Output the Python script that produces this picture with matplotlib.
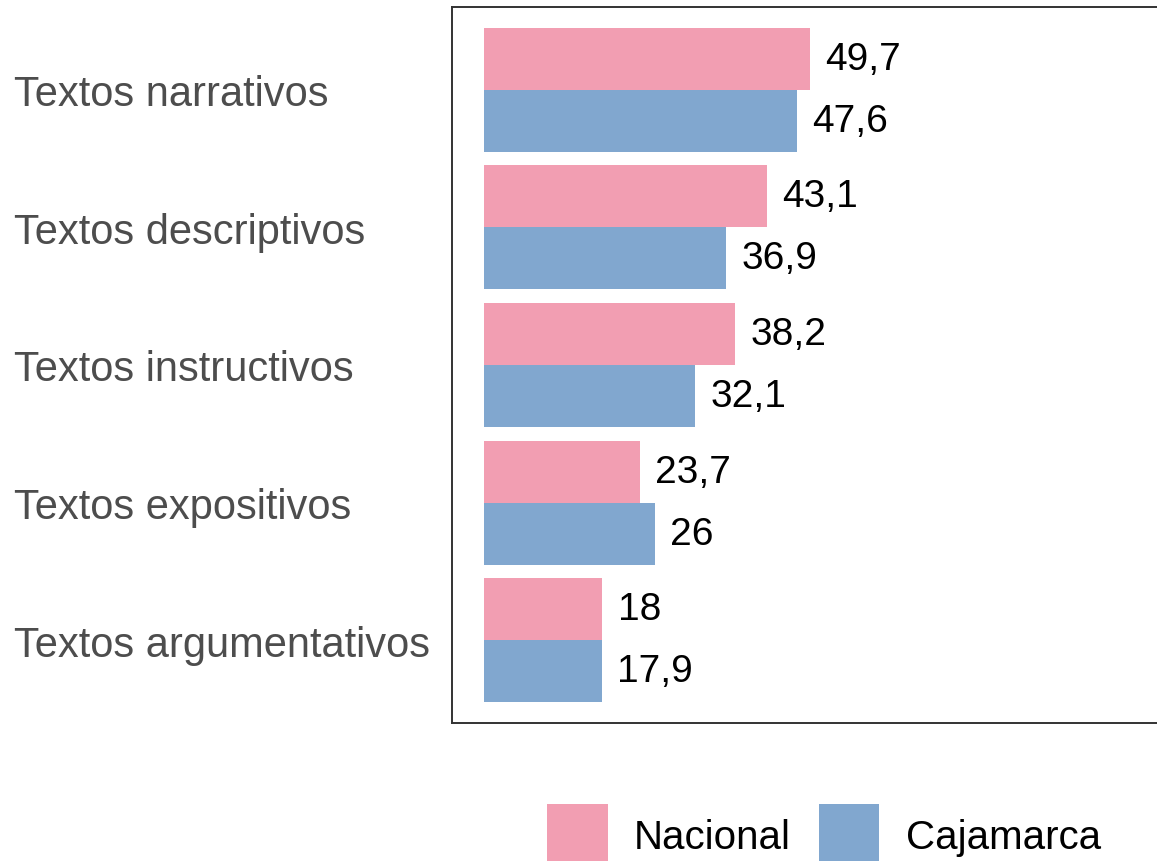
import matplotlib.pyplot as plt
from matplotlib.patches import Patch

plt.rcParams['font.family'] = ['Liberation Sans', 'DejaVu Sans']

categories = ['Textos narrativos', 'Textos descriptivos', 'Textos instructivos',
              'Textos expositivos', 'Textos argumentativos']
nacional = [49.7, 43.1, 38.2, 23.7, 18]
cajamarca = [47.6, 36.9, 32.1, 26, 17.9]
series_names = ['Nacional', 'Cajamarca']
colors = ['#F29EB2', '#81A7CF']


def fmt(v):
    # decimal comma, no trailing zero
    s = ('%.1f' % v).rstrip('0').rstrip('.')
    return s.replace('.', ',')


W, H = 1157, 862
fig = plt.figure(figsize=(W / 100, H / 100), dpi=100)
ax = fig.add_axes([451.5 / W, (H - 724) / H, (1173 - 451.5) / W, 716 / H])

n = len(categories)
ypos = [n - i for i in range(n)]
h = 0.45

bars_n = ax.barh([y + h / 2 for y in ypos], nacional, height=h, color=colors[0])
bars_c = ax.barh([y - h / 2 for y in ypos], cajamarca, height=h, color=colors[1])

for bars, vals in [(bars_n, nacional), (bars_c, cajamarca)]:
    for b, v in zip(bars, vals):
        ax.annotate(fmt(v), (v, b.get_y() + b.get_height() / 2),
                    xytext=(11, 0), textcoords='offset points',
                    ha='left', va='center', fontsize=28, color='black')

ax.set_xlim(-5, 105)
ax.set_ylim(0.4, n + 0.6)
ax.set_xticks([])
ax.set_yticks(ypos)
ax.set_yticklabels(categories, fontsize=30, color='#4D4D4D', ha='left')
ax.tick_params(axis='y', length=0, pad=437 * 0.72)
for lbl in ax.get_yticklabels():
    lbl.set_va('center_baseline')

for sp in ax.spines.values():
    sp.set_color('#333333')
    sp.set_linewidth(1.4)

handles = [Patch(facecolor=c, edgecolor='none') for c in colors]
fig.legend(handles, series_names, loc='upper center', ncol=2,
           bbox_to_anchor=(824 / W, (H - 805) / H), frameon=False,
           fontsize=29, handlelength=1.5, handleheight=2.0,
           handletextpad=0.65, columnspacing=0.7,
           borderpad=0, borderaxespad=0)

fig.savefig('out.png', dpi=100)
